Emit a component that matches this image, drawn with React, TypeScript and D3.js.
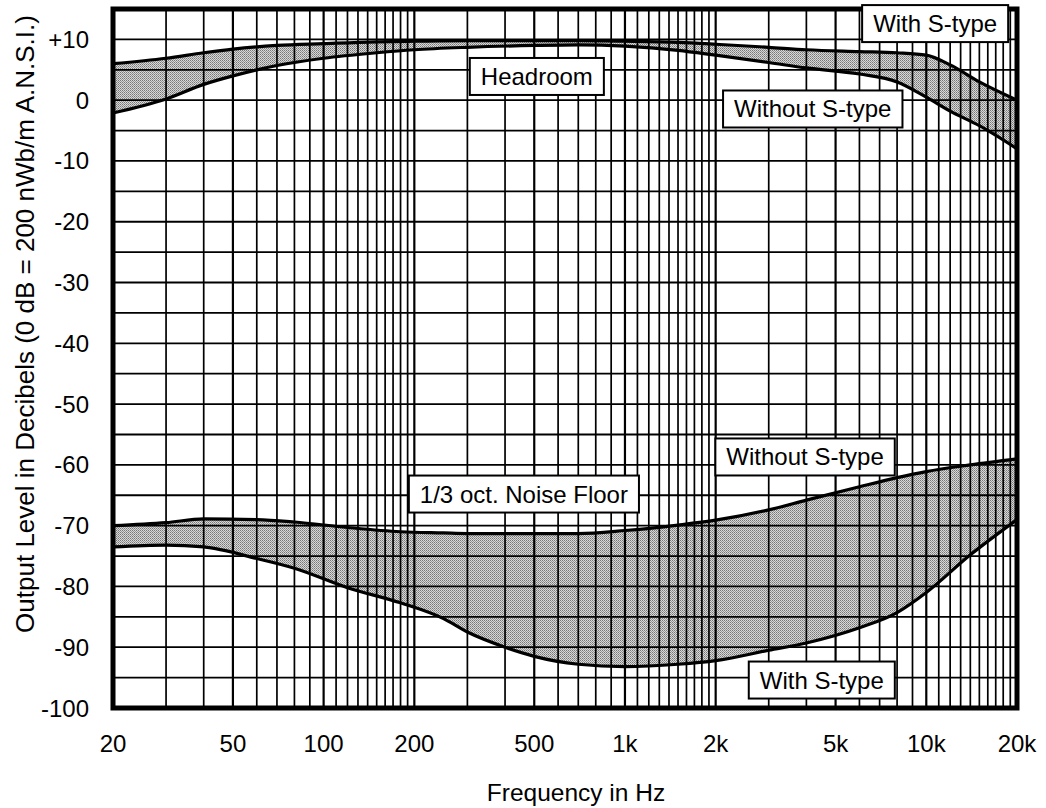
import React, { useEffect, useRef } from "react";
import * as d3 from "d3";

// Headroom curves (dB) at shared frequencies (Hz)
const HEAD_FREQ = [20, 30, 40, 50, 70, 100, 150, 200, 300, 500, 700, 1000, 1500, 2000, 3000, 4000, 6000, 8000, 10000, 12000, 15000, 20000];
const HEAD_WITH = [6.0, 6.9, 7.8, 8.4, 9.0, 9.3, 9.6, 9.7, 9.8, 9.8, 9.8, 9.7, 9.5, 9.2, 8.7, 8.3, 8.0, 7.8, 7.4, 5.8, 3.0, 0];
const HEAD_WITHOUT = [-2.1, 0.2, 2.6, 4.0, 5.7, 6.9, 7.8, 8.3, 8.7, 9.0, 9.1, 8.9, 8.2, 7.4, 6.2, 5.3, 4.3, 3.0, 0.5, -1.8, -4.2, -8];

// 1/3 octave noise floor curves (dB)
const NOISE_FREQ = [20, 30, 40, 60, 80, 120, 180, 250, 300, 400, 500, 700, 1000, 1500, 2000, 3000, 4000, 6000, 8000, 10000, 14000, 20000];
const NOISE_WITHOUT = [-70, -69.5, -68.9, -69, -69.4, -70.3, -71, -71.2, -71.3, -71.3, -71.3, -71.3, -70.8, -69.9, -69.1, -67.4, -65.8, -63.6, -62.1, -61.1, -60.0, -59];
const NOISE_WITH = [-73.5, -73.2, -73.5, -75.4, -77.0, -80.2, -82.7, -85.3, -87.5, -90, -91.5, -92.8, -93.2, -92.8, -92.2, -90.5, -89.3, -86.8, -84.3, -81.0, -74.8, -69];

// Axes
const X_TICKS = [20, 50, 100, 200, 500, 1000, 2000, 5000, 10000, 20000];
const X_TICK_LABELS = ["20", "50", "100", "200", "500", "1k", "2k", "5k", "10k", "20k"];
const Y_TICKS = [10, 0, -10, -20, -30, -40, -50, -60, -70, -80, -90, -100];
const Y_TICK_LABELS = ["+10", "0", "-10", "-20", "-30", "-40", "-50", "-60", "-70", "-80", "-90", "-100"];

const X_TITLE = "Frequency in Hz";
const Y_TITLE = "Output Level in Decibels (0 dB = 200 nWb/m A.N.S.I.)";

const ANNOTATIONS = [
  { text: "Headroom", freq: 510, db: 3.9 },
  { text: "With S-type", freq: 10700, db: 12.6 },
  { text: "Without S-type", freq: 4200, db: -1.45 },
  { text: "1/3 oct. Noise Floor", freq: 462, db: -64.8 },
  { text: "Without S-type", freq: 3960, db: -58.7 },
  { text: "With S-type", freq: 4500, db: -95.4 },
];

const W = 1046;
const H = 808;
const FONT = "'Liberation Sans', Arial, Helvetica, sans-serif";
const FS = 24;

export default function App() {
  const ref = useRef<SVGSVGElement | null>(null);

  useEffect(() => {
    const svg = d3.select(ref.current);
    svg.selectAll("*").remove();

    const left = 113, right = 1017, top = 9, bottom = 708;
    const x = d3.scaleLog().domain([20, 20000]).range([left, right]);
    const y = d3.scaleLinear().domain([-100, 15]).range([bottom, top]);

    // stipple pattern
    const defs = svg.append("defs");
    const pat = defs.append("pattern").attr("id", "stip")
      .attr("patternUnits", "userSpaceOnUse").attr("width", 2).attr("height", 2);
    pat.append("rect").attr("width", 2).attr("height", 2).attr("fill", "#d8d8d8");
    pat.append("rect").attr("x", 0).attr("y", 0).attr("width", 1).attr("height", 1).attr("fill", "#777");
    pat.append("rect").attr("x", 1).attr("y", 1).attr("width", 1).attr("height", 1).attr("fill", "#969696");

    const g = svg.append("g");

    // shaded bands
    const area = (freqs: number[], hi: number[], lo: number[]) =>
      d3.area<number>()
        .x((_, i) => x(freqs[i]))
        .y0((_, i) => y(lo[i]))
        .y1((_, i) => y(hi[i]))
        .curve(d3.curveMonotoneX)(freqs);

    g.append("path").attr("d", area(HEAD_FREQ, HEAD_WITH, HEAD_WITHOUT) as string).attr("fill", "url(#stip)");
    g.append("path").attr("d", area(NOISE_FREQ, NOISE_WITHOUT, NOISE_WITH) as string).attr("fill", "url(#stip)");

    // grid: vertical lines
    const vfreqs: number[] = [];
    for (let f = 30; f <= 100; f += 10) vfreqs.push(f);
    for (let f = 110; f <= 200; f += 10) vfreqs.push(f);
    for (let f = 300; f <= 1000; f += 100) vfreqs.push(f);
    for (let f = 1100; f <= 2000; f += 100) vfreqs.push(f);
    for (let f = 3000; f <= 10000; f += 1000) vfreqs.push(f);
    for (let f = 11000; f < 20000; f += 1000) vfreqs.push(f);
    g.selectAll("line.v").data(vfreqs).enter().append("line")
      .attr("x1", (d) => x(d)).attr("x2", (d) => x(d))
      .attr("y1", top).attr("y2", bottom)
      .attr("stroke", "#000")
      .attr("stroke-width", (d) => (X_TICKS.includes(d) ? 2.2 : 1.7));

    const hdb: number[] = [];
    for (let v = -95; v <= 10; v += 5) hdb.push(v);
    g.selectAll("line.h").data(hdb).enter().append("line")
      .attr("x1", left).attr("x2", right)
      .attr("y1", (d) => y(d)).attr("y2", (d) => y(d))
      .attr("stroke", "#000").attr("stroke-width", 1.8);

    // curves
    const line = (freqs: number[], vals: number[]) =>
      d3.line<number>()
        .x((_, i) => x(freqs[i]))
        .y((_, i) => y(vals[i]))
        .curve(d3.curveMonotoneX)(freqs);
    [
      [HEAD_FREQ, HEAD_WITH],
      [HEAD_FREQ, HEAD_WITHOUT],
      [NOISE_FREQ, NOISE_WITHOUT],
      [NOISE_FREQ, NOISE_WITH],
    ].forEach(([f, v]) => {
      g.append("path").attr("d", line(f, v) as string)
        .attr("fill", "none").attr("stroke", "#000").attr("stroke-width", 3.2);
    });

    // frame
    g.append("rect").attr("x", left).attr("y", top)
      .attr("width", right - left).attr("height", bottom - top)
      .attr("fill", "none").attr("stroke", "#000").attr("stroke-width", 5);

    // tick labels
    g.selectAll("text.xt").data(X_TICKS).enter().append("text")
      .attr("x", (d) => x(d)).attr("y", 752)
      .attr("text-anchor", "middle")
      .attr("font-family", FONT).attr("font-size", FS).attr("fill", "#000")
      .text((_, i) => X_TICK_LABELS[i]);

    g.selectAll("text.yt").data(Y_TICKS).enter().append("text")
      .attr("x", 89).attr("y", (d) => y(d) + 8.5)
      .attr("text-anchor", "end")
      .attr("font-family", FONT).attr("font-size", FS).attr("fill", "#000")
      .text((_, i) => Y_TICK_LABELS[i]);

    // axis titles
    g.append("text").attr("x", 576).attr("y", 801)
      .attr("text-anchor", "middle")
      .attr("font-family", FONT).attr("font-size", 24.5).attr("fill", "#000")
      .text(X_TITLE);

    g.append("text")
      .attr("transform", `translate(33.5,324) rotate(-90)`)
      .attr("text-anchor", "middle")
      .attr("font-family", FONT).attr("font-size", 26).attr("fill", "#000")
      .text(Y_TITLE);

    // annotation boxes
    ANNOTATIONS.forEach((a) => {
      const cx = x(a.freq);
      const cy = y(a.db);
      const grp = g.append("g");
      const rect = grp.append("rect");
      const t = grp.append("text")
        .attr("x", cx).attr("y", cy + 8.5)
        .attr("text-anchor", "middle")
        .attr("font-family", FONT).attr("font-size", FS).attr("fill", "#000")
        .text(a.text);
      const bb = (t.node() as SVGTextElement).getBBox();
      const bw = bb.width + 22;
      const bh = 37;
      rect.attr("x", cx - bw / 2).attr("y", cy - bh / 2)
        .attr("width", bw).attr("height", bh)
        .attr("fill", "#fff").attr("stroke", "#000").attr("stroke-width", 2);
    });
  }, []);

  return (
    <svg
      ref={ref}
      width={W}
      height={H}
      style={{ position: "absolute", left: 0, top: 0, background: "#fff" }}
    />
  );
}
